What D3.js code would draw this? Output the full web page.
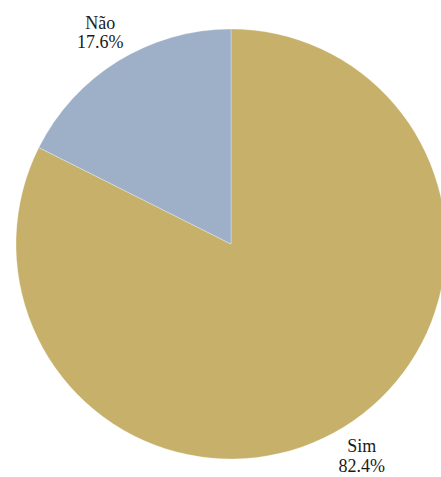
<!DOCTYPE html>
<html><head><meta charset="utf-8">
<script src="https://cdn.jsdelivr.net/npm/d3@7"></script>
<style>body{margin:0;background:#fff}svg{display:block}</style>
</head><body>
<script>
const categories = ["Sim", "Não"];
const values = [82.4, 17.6];
const labels = ["82.4%", "17.6%"];
const colors = ["#C6B06A", "#9DB0C8"];

const W = 441, H = 477, cx = 231, cy = 244, R = 215, LR = 249;
const svg = d3.select("body").append("svg").attr("width", W).attr("height", H);
const g = svg.append("g").attr("transform", `translate(${cx},${cy})`);
const data = categories.map((c, i) => ({c, v: values[i], l: labels[i], col: colors[i]}));
const pie = d3.pie().value(d => d.v).sort(null);
const arcs = pie(data);
const arc = d3.arc().innerRadius(0).outerRadius(R);
g.selectAll("path").data(arcs).join("path")
  .attr("d", arc).attr("fill", d => d.data.col)
  .attr("stroke", "#fff").attr("stroke-width", 0.3);
const lab = g.selectAll("text").data(arcs).join("text")
  .attr("font-family", "'Liberation Serif', 'Times New Roman', serif")
  .attr("font-size", 18).attr("fill", "#1a1a1a").attr("text-anchor", "middle")
  .attr("transform", d => {
    const a = (d.startAngle + d.endAngle) / 2;
    return `translate(${LR * Math.sin(a)},${-LR * Math.cos(a)})`;
  });
lab.append("tspan").attr("x", 0).attr("dy", "-0.2em").text(d => d.data.c);
lab.append("tspan").attr("x", 0).attr("dy", "1.08em").text(d => d.data.l);
</script>
</body></html>
